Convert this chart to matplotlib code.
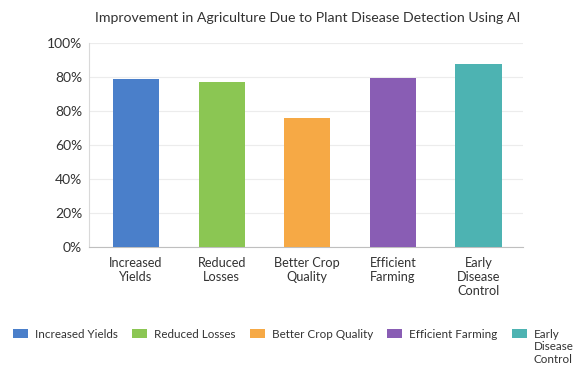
import matplotlib.pyplot as plt
from matplotlib.patches import Patch

plt.rcParams['font.family'] = ['Lato', 'DejaVu Sans']

categories = ['Increased Yields', 'Reduced Losses', 'Better Crop Quality',
              'Efficient Farming', 'Early Disease Control']
tick_names = ['Increased\nYields', 'Reduced\nLosses', 'Better Crop\nQuality',
              'Efficient\nFarming', 'Early\nDisease\nControl']
values = [82.1, 80.8, 63.0, 82.6, 89.6]
colors = ['#4a7fca', '#8bc653', '#f6a945', '#895db4', '#4db3b2']

# y ticks as labelled on the axis
y_ticks = [0, 100 / 6, 200 / 6, 50, 400 / 6, 500 / 6, 100]
y_labels = ['0%', '20%', '40%', '60%', '80%', '80%', '100%']

W, H = 578, 367
fig = plt.figure(figsize=(W / 100, H / 100), dpi=100)
ax = fig.add_axes([89 / W, 1 - 247.3 / H, 434 / W, 204.6 / H])

x = range(len(categories))
ax.bar(x, values, width=0.54, color=colors, zorder=3)

ax.set_xlim(-0.55, 4.52)
ax.set_ylim(0, 100)
ax.set_yticks(y_ticks)
ax.set_yticklabels(y_labels, fontsize=10, color='#333333')
ax.set_xticks(list(x))
ax.set_xticklabels(tick_names, fontsize=9.2, color='#333333')
ax.tick_params(axis='y', length=0, pad=5)
ax.tick_params(axis='x', length=0, pad=7)
ax.grid(axis='y', color='#ececec', linewidth=0.8, zorder=0)

for side in ['top', 'right']:
    ax.spines[side].set_visible(False)
ax.spines['left'].set_color('#d9d9d9')
ax.spines['bottom'].set_color('#bfbfbf')

fig.text(0.532, 1 - 18 / H,
         'Improvement in Agriculture Due to Plant Disease Detection Using AI',
         ha='center', va='center', fontsize=10.2, color='#333333')

# legend: last entry wraps onto extra lines below the row
first_lines = [c.split(' ')[0] if c.startswith('Early') else c for c in categories]
handles = [Patch(facecolor=c) for c in colors]
leg = fig.legend(handles, first_lines, loc='center left',
                 bbox_to_anchor=(13 / W, 1 - 334 / H), ncol=5, frameon=False,
                 fontsize=8.4, handlelength=1.3, handleheight=0.85,
                 columnspacing=1.2, handletextpad=0.6, borderpad=0,
                 borderaxespad=0, labelcolor='#333333')

fig.canvas.draw()
bb = leg.get_texts()[4].get_window_extent()
fig.text(bb.x0 / W, (bb.y0 - 1) / H, 'Disease\nControl', ha='left', va='top',
         fontsize=8.4, color='#333333', linespacing=1.3)

fig.savefig('out.png', dpi=100)
